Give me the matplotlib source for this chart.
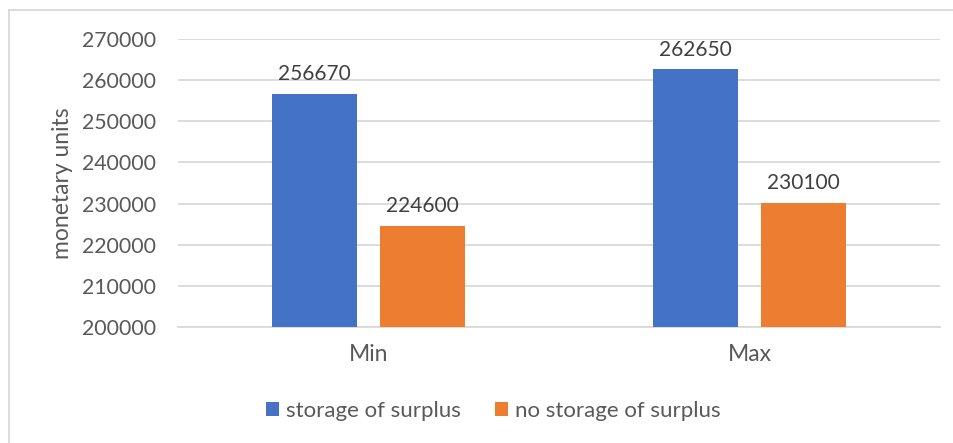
import matplotlib
matplotlib.use("Agg")
import matplotlib.pyplot as plt
import numpy as np
from matplotlib.lines import Line2D

plt.rcParams['font.family'] = ['Lato', 'DejaVu Sans']

categories = ["Min", "Max"]
series_names = ["storage of surplus", "no storage of surplus"]
storage = [256670, 262650]
no_storage = [224600, 230100]
yticks = [200000, 210000, 220000, 230000, 240000, 250000, 260000, 270000]

W, H = 954, 443
fig = plt.figure(figsize=(W / 100, H / 100), dpi=100)
ax = fig.add_axes([178 / W, 1 - 327 / H, (940 - 178) / W, (327 - 39) / H])

x = np.arange(len(categories))
bw = 0.224
gap = 0.06
off = (bw + gap) / 2
blue = "#4472C4"
orange = "#ED7D31"
b1 = ax.bar(x - off, storage, bw, color=blue, zorder=3, label=series_names[0])
b2 = ax.bar(x + off, no_storage, bw, color=orange, zorder=3, label=series_names[1])

for bars, vals in ((b1, storage), (b2, no_storage)):
    for r, v in zip(bars, vals):
        ax.annotate(f"{v}", (r.get_x() + r.get_width() / 2, v), xytext=(0, 7),
                    textcoords="offset points", ha="center", va="bottom",
                    fontsize=15, color="#404040")

ax.set_xlim(-0.5, 1.5)
ax.set_ylim(200000, 270000)
ax.set_yticks(yticks)
ax.set_yticklabels([str(t) for t in yticks])
ax.set_xticks(x)
ax.set_xticklabels(categories)
ax.yaxis.grid(True, color="#D9D9D9", linewidth=1.3, zorder=0)
ax.set_axisbelow(True)
for s in ["top", "right", "left"]:
    ax.spines[s].set_visible(False)
ax.spines["bottom"].set_color("#D9D9D9")
ax.spines["bottom"].set_linewidth(1.3)
ax.tick_params(axis="y", length=0, labelsize=15.3, colors="#595959", pad=16)
ax.tick_params(axis="x", length=0, labelsize=16.5, colors="#595959", pad=12)
ax.set_ylabel("monetary units", fontsize=16.5, color="#595959", labelpad=6)

ax.legend(loc="center", bbox_to_anchor=(493 / W, 1 - 411 / H), bbox_transform=fig.transFigure,
          ncol=2, frameon=False, fontsize=16, labelcolor="#595959",
          handlelength=0.6, handleheight=0.6, handletextpad=0.3, columnspacing=1.55)

# chart frame (top and left visible)
fig.add_artist(Line2D([9 / W, 1], [1 - 10 / H, 1 - 10 / H], transform=fig.transFigure,
                      color="#D9D9D9", linewidth=1.3))
fig.add_artist(Line2D([9 / W, 9 / W], [0, 1 - 10 / H], transform=fig.transFigure,
                      color="#D9D9D9", linewidth=1.3))

fig.savefig("out.png", dpi=100, facecolor="white")
